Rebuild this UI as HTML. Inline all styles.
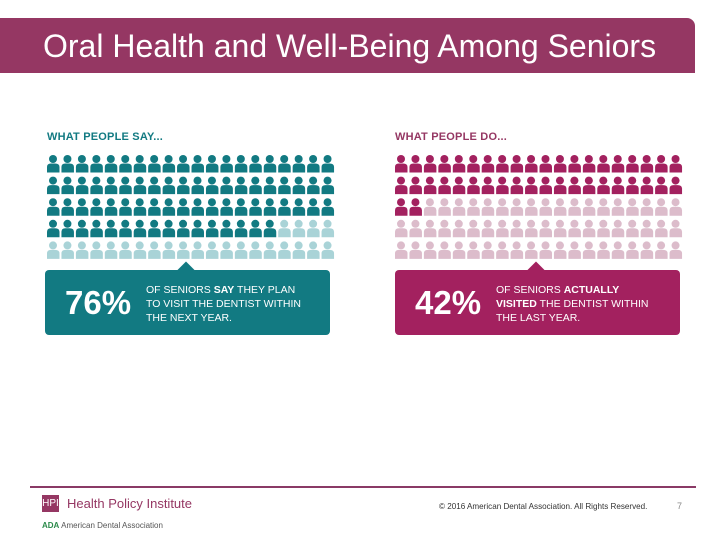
<!DOCTYPE html>
<html><head><meta charset="utf-8"><style>
body{margin:0;width:720px;height:540px;background:#fff;position:relative;overflow:hidden;font-family:"Liberation Sans",sans-serif}
.hdr{position:absolute;left:0;top:18px;width:695px;height:55px;background:#953763;border-top-right-radius:8px}
.hdr span{position:absolute;left:43px;top:10px;color:#fff;font-size:32px}
.lbl{position:absolute;font-size:11px;font-weight:bold;letter-spacing:0.2px}
.box{position:absolute;top:270px;height:65px;width:285px;border-radius:4px;color:#fff}
.box .pct{position:absolute;left:20px;top:14px;font-size:33px;font-weight:bold}
.box .txt{position:absolute;left:101px;top:13px;font-size:10.5px;line-height:14px}
.notch{position:absolute;top:-6px;width:12px;height:12px;transform:rotate(45deg)}
</style></head><body>
<div class="hdr"><span>Oral Health and Well-Being Among Seniors</span></div>
<div class="lbl" style="left:47px;top:131px;color:#127a82">WHAT PEOPLE SAY...</div>
<div class="lbl" style="left:395px;top:131px;color:#953763">WHAT PEOPLE DO...</div>
<svg id="g" width="720" height="540" style="position:absolute;left:0;top:0"></svg>
<div class="box" style="left:45px;background:#127a82"><div class="notch" style="left:135px;background:#127a82"></div><div class="pct">76%</div><div class="txt">OF SENIORS <b>SAY</b> THEY PLAN<br>TO VISIT THE DENTIST WITHIN<br>THE NEXT YEAR.</div></div>
<div class="box" style="left:395px;background:#a3215f"><div class="notch" style="left:135px;background:#a3215f"></div><div class="pct">42%</div><div class="txt">OF SENIORS <b>ACTUALLY</b><br><b>VISITED</b> THE DENTIST WITHIN<br>THE LAST YEAR.</div></div>
<div style="position:absolute;left:30px;top:486px;width:666px;height:2px;background:#8a3a66"></div>
<div style="position:absolute;left:42px;top:495px;width:17px;height:17px;background:#953763;color:#fff;font-size:10px;line-height:17px;text-align:center">HPI</div>
<div style="position:absolute;left:67px;top:496px;font-size:13px;color:#953763">Health Policy Institute</div>
<div style="position:absolute;left:42px;top:521px;font-size:8px;color:#555"><b style="color:#2a8a4a">ADA</b> American Dental Association</div>
<div style="position:absolute;left:439px;top:502px;font-size:8.1px;color:#333">© 2016 American Dental Association. All Rights Reserved.</div>
<div style="position:absolute;left:677px;top:501px;font-size:9px;color:#888">7</div>
<script>
const groups=["say","do"];
const filled=[76,42];
const total=100;
const x0=[47,395];
const cols=[["#127a82","#a9d3d7"],["#a3215f","#dcbccb"]];
const svg=document.getElementById('g');
const NS='http://www.w3.org/2000/svg';
function xs(g,c){return x0[g]+c*14.45;}
function ys(r){return 155+r*21.6;}
for(let g=0;g<groups.length;g++){
 for(let i=0;i<total;i++){
  const c=i%20,r=Math.floor(i/20);
  const x=xs(g,c),y=ys(r);
  const col=i<filled[g]?cols[g][0]:cols[g][1];
  const p=document.createElementNS(NS,'g');
  
  
  p.innerHTML=`<circle cx="${x+6}" cy="${y+4}" r="4" fill="${col}"/><path d="M${x} ${y+17.5} L${x} ${y+12} Q${x} ${y+8.5} ${x+4} ${y+8.5} L${x+8} ${y+8.5} Q${x+12.5} ${y+8.5} ${x+12.5} ${y+12} L${x+12.5} ${y+17.5} Z" fill="${col}"/>`;
  svg.appendChild(p);
 }
}
</script>
</body></html>
